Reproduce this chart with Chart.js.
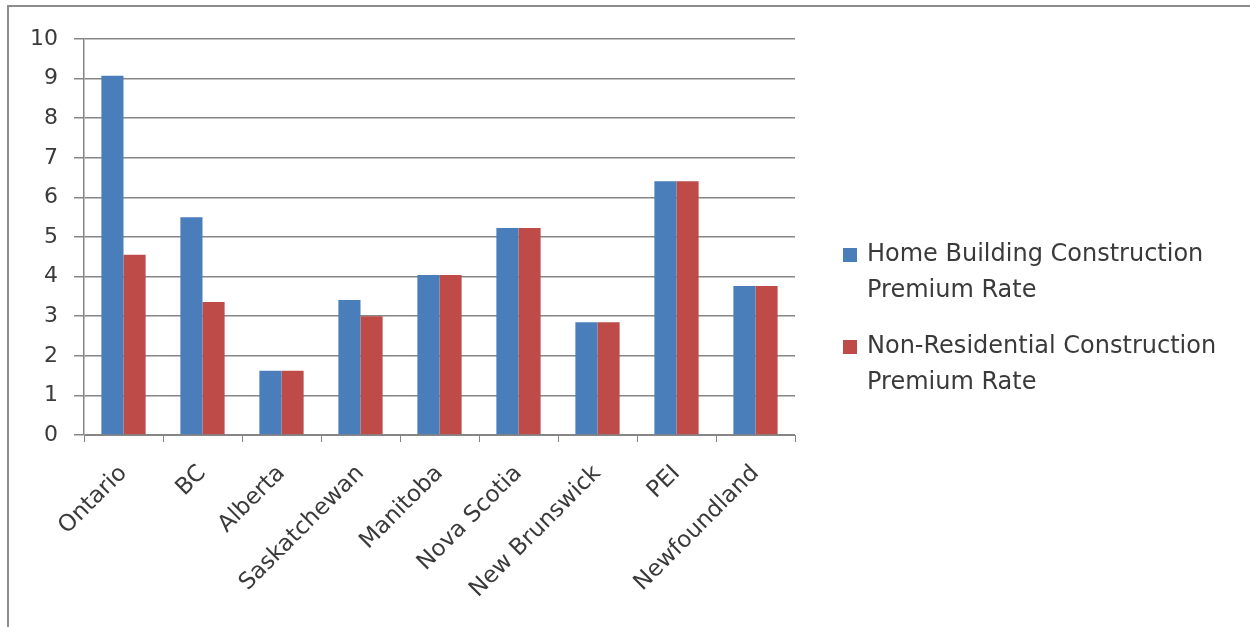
<!DOCTYPE html>
<html>
<head>
<meta charset="utf-8">
<script src="https://cdn.jsdelivr.net/npm/chart.js@4/dist/chart.umd.min.js"></script>
<style>
  html, body { margin: 0; padding: 0; background: #fff; }
  .frame { position: absolute; left: 7px; top: 5px; width: 1250px; height: 640px;
           border-top: 2px solid #8c8c8c; border-left: 2px solid #8c8c8c; }
  .wrap { position: absolute; left: 0; top: 0; width: 1250px; height: 627px; }
</style>
</head>
<body>
<div class="frame"></div>
<div class="wrap"><canvas id="c" width="1250" height="627"></canvas></div>
<script>
const provinces = ['Ontario', 'BC', 'Alberta', 'Saskatchewan', 'Manitoba', 'Nova Scotia', 'New Brunswick', 'PEI', 'Newfoundland'];
const homeBuilding = [9.07, 5.5, 1.62, 3.41, 4.04, 5.23, 2.85, 6.41, 3.76];
const nonResidential = [4.55, 3.36, 1.62, 3.0, 4.04, 5.23, 2.85, 6.41, 3.76];
const seriesNames = [
    ['Home Building Construction', 'Premium Rate'],
    ['Non-Residential Construction', 'Premium Rate']
];
const yTicks = [0, 1, 2, 3, 4, 5, 6, 7, 8, 9, 10];

const font = "'DejaVu Sans', Verdana, sans-serif";
const textColor = '#3a3a3a';
const lineColor = '#868686';

// legend drawn by hand so the labels can wrap onto two lines
const sideLegend = {
    id: 'sideLegend',
    afterDraw(chart) {
        const ctx = chart.ctx;
        ctx.save();
        ctx.font = '24px ' + font;
        ctx.textBaseline = 'middle';
        chart.data.datasets.forEach((ds, i) => {
            const top = 255 + i * 92;
            ctx.fillStyle = ds.backgroundColor;
            ctx.fillRect(843, top - 7, 14, 14);
            ctx.fillStyle = textColor;
            seriesNames[i].forEach((line, j) => {
                ctx.fillText(line, 867, top + j * 36);
            });
        });
        ctx.restore();
    }
};

new Chart(document.getElementById('c').getContext('2d'), {
    type: 'bar',
    data: {
        labels: provinces,
        datasets: [{
            label: seriesNames[0].join(' '),
            data: homeBuilding,
            backgroundColor: '#4a7ebb'
        }, {
            label: seriesNames[1].join(' '),
            data: nonResidential,
            backgroundColor: '#be4b48'
        }]
    },
    options: {
        responsive: false,
        animation: false,
        layout: { padding: { left: 10, top: 39, right: 455, bottom: 0 } },
        plugins: { legend: { display: false }, tooltip: { enabled: false } },
        datasets: { bar: { categoryPercentage: 0.56, barPercentage: 1 } },
        scales: {
            x: {
                afterFit: (s) => { s.height = 627 - 435; },
                grid: { drawOnChartArea: false, drawTicks: true, tickLength: 7, color: lineColor, offset: true },
                border: { color: lineColor, width: 1 },
                ticks: {
                    color: textColor, font: { family: font, size: 23 },
                    minRotation: 45, maxRotation: 45, padding: 18, autoSkip: false
                }
            },
            y: {
                min: 0, max: 10,
                afterFit: (s) => { s.width = 84 - 10; },
                afterBuildTicks: (s) => { s.ticks = yTicks.map(v => ({ value: v })); },
                grid: { color: lineColor, lineWidth: 1.5, tickLength: 10 },
                border: { color: lineColor, width: 1.5 },
                ticks: { color: textColor, font: { family: font, size: 22 }, padding: 16 }
            }
        }
    },
    plugins: [sideLegend]
});
</script>
</body>
</html>
